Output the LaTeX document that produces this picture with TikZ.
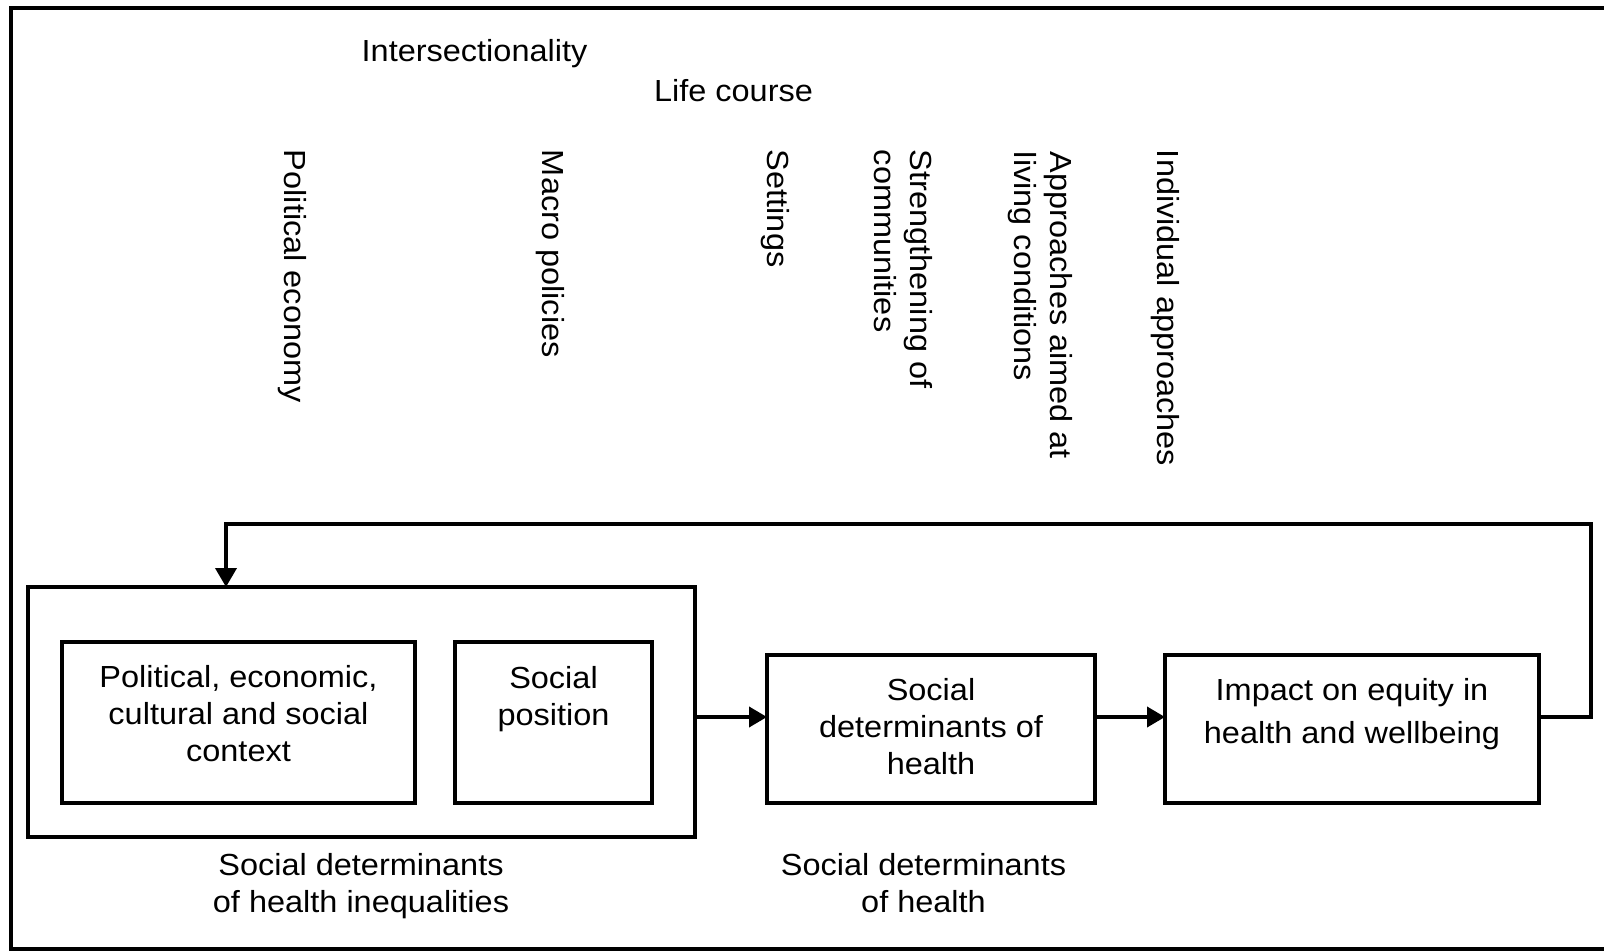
\documentclass[tikz,border=0pt]{standalone}
\usepackage{fontspec}
\setmainfont{Liberation Sans}[FakeStretch=1.065]
\usetikzlibrary{arrows.meta}
\begin{document}
\begin{tikzpicture}[x=1pt,y=-1pt,
  every node/.style={inner sep=0pt, outer sep=0pt, font=\fontsize{30.5}{36.8}\selectfont},
  box/.style={draw, line width=3.8pt, rectangle},
  lbl/.style={anchor=north, align=center},
  rot/.style={rotate=-90, anchor=north west, align=left},
  arr/.style={line width=3.8pt, -{Triangle[length=18pt,width=20pt]}},
  farr/.style={line width=3.8pt, -{Triangle[length=19pt,width=21pt]}},
  frame/.style={line width=3.8pt}]
\useasboundingbox (0,0) rectangle (1604,952);
\draw[frame] (1620,8) -- (11,8) -- (11,949) -- (1620,949);

% boxes
\node[box, minimum width=667pt, minimum height=250pt] (sdhi) at (361.5,712) {};
\node[box, minimum width=353pt, minimum height=161pt] (ctx) at (238.5,722.5) {};
\node[box, minimum width=197pt, minimum height=161pt] (pos) at (553.5,722.5) {};
\node[box, minimum width=328pt, minimum height=148pt] (sdh) at (931,729) {};
\node[box, minimum width=374pt, minimum height=148pt] (imp) at (1352,729) {};

% box texts
\node[lbl] (ctxT) at (238.5,665.3) {Political, economic,\\cultural and social\\context};
\node[lbl] (posT) at (553.5,666.3) {Social\\position};
\node[lbl] (sdhT) at (931,678.3) {Social\\determinants of\\health};
\node[lbl] (impT) at (1352,678.3) {Impact on equity in\\[6pt]health and wellbeing};

% labels below
\node[lbl] (labA) at (361,853.3) {Social determinants\\of health inequalities};
\node[lbl] (labB) at (923.5,853.3) {Social determinants\\of health};

% top labels
\node[anchor=base] (inter) at (474.5,62) {Intersectionality};
\node[anchor=base] (life) at (733.5,102) {Life course};

% rotated labels
\node[rot] (pe) at (307,150) {Political economy};
\node[rot] (mp) at (565,150) {Macro policies};
\node[rot] (set) at (790,150) {Settings};
\node[rot] (str) at (933,150) {Strengthening of\\communities};
\node[rot] (app) at (1073,152) {Approaches aimed at\\living conditions};
\node[rot] (ind) at (1180,150) {Individual approaches};

% connectors
\coordinate (ay) at (0,717);
\coordinate (fbR) at (1591,524);
\coordinate (fbL) at (226,524);
\draw[arr] (sdhi.east |- ay) -- (sdh.west |- ay);
\draw[arr] (sdh.east |- ay) -- (imp.west |- ay);
\draw[farr] (imp.east |- ay) -| (fbR) -| (sdhi.north -| fbL);
\end{tikzpicture}
\end{document}
